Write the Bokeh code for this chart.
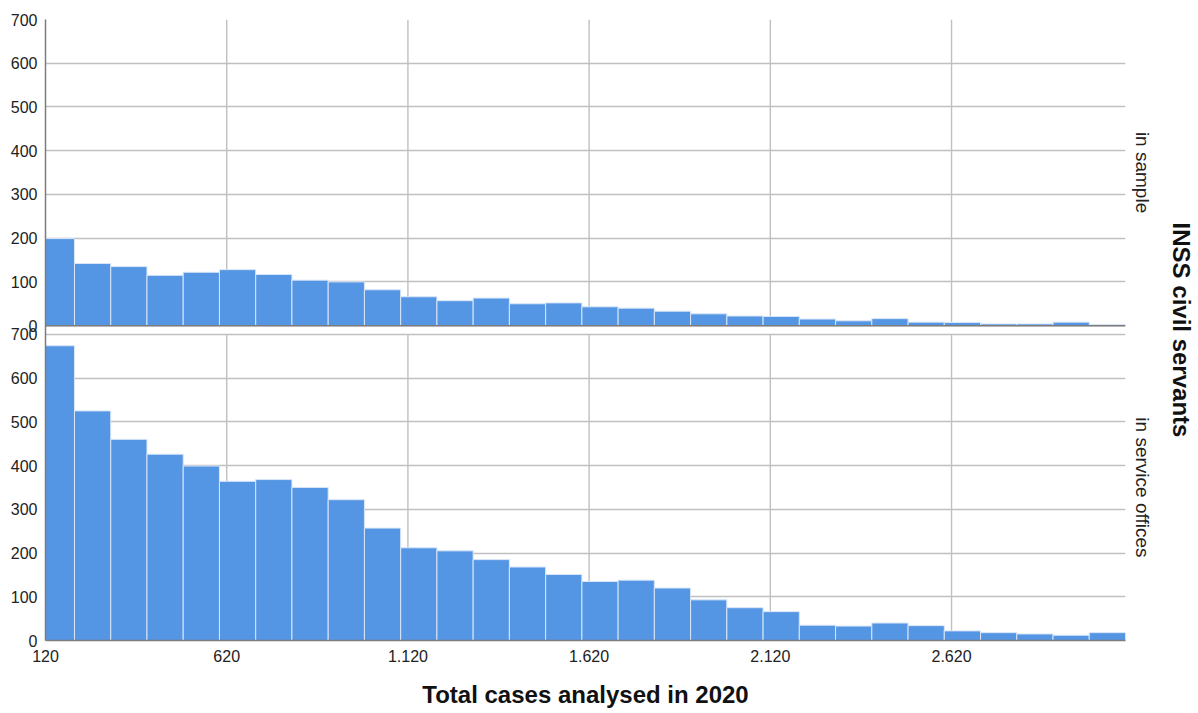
from bokeh.plotting import figure
from bokeh.models import ColumnDataSource, FixedTicker, Span, LinearAxis
from bokeh.embed import file_html
from bokeh.resources import INLINE

# ---- data ----
bin_start = [100, 200, 300, 400, 500, 600, 700, 800, 900, 1000,
             1100, 1200, 1300, 1400, 1500, 1600, 1700, 1800, 1900, 2000,
             2100, 2200, 2300, 2400, 2500, 2600, 2700, 2800, 2900, 3000]
bin_end = [200, 300, 400, 500, 600, 700, 800, 900, 1000, 1100,
           1200, 1300, 1400, 1500, 1600, 1700, 1800, 1900, 2000, 2100,
           2200, 2300, 2400, 2500, 2600, 2700, 2800, 2900, 3000, 3100]
in_sample = [199, 142, 135, 115, 122, 128, 117, 104, 100, 82,
             66, 57, 63, 50, 52, 43, 40, 33, 27, 22,
             21, 15, 11, 16, 8, 7, 4, 4, 8, 2]
in_service_offices = [674, 525, 460, 426, 399, 364, 368, 350, 322, 257,
                      212, 205, 185, 168, 151, 135, 138, 120, 93, 75,
                      66, 35, 33, 40, 34, 22, 18, 15, 12, 18]
panel_labels = ["in sample", "in service offices"]
row_title = "INSS civil servants"
x_title = "Total cases analysed in 2020"
x_ticks = [120, 620, 1120, 1620, 2120, 2620]
x_tick_labels = ["120", "620", "1.120", "1.620", "2.120", "2.620"]
y_ticks = [0, 100, 200, 300, 400, 500, 600, 700]
y_tick_labels = ["0", "100", "200", "300", "400", "500", "600", "700"]

# ---- layout constants ----
X_MIN, X_MAX = 120, 3100
PANEL_H = 700
GAP = 20
TOP_BASE = PANEL_H + GAP

BAR = "#5596E4"
BAR_EDGE = "#d9e6f8"
GRID = "#c0c0c0"
AXIS = "#7d7d7d"
TXT = "#222222"
FONT = "Liberation Sans"

p = figure(width=1198, height=713, title=None,
           x_range=(X_MIN, X_MAX), y_range=(0, TOP_BASE + PANEL_H),
           output_backend="svg", toolbar_location=None,
           min_border_left=45, min_border_right=73,
           min_border_top=19, min_border_bottom=73)
p.outline_line_color = None
p.background_fill_color = "white"
p.border_fill_color = "white"

# left axis: two stacked 0-700 scales
all_y_ticks = y_ticks + [TOP_BASE + t for t in y_ticks]
y_over = {}
for t, lab in zip(y_ticks, y_tick_labels):
    y_over[t] = lab
    y_over[TOP_BASE + t] = lab
p.yaxis.ticker = FixedTicker(ticks=all_y_ticks)
p.yaxis.major_label_overrides = y_over
p.xaxis.ticker = FixedTicker(ticks=x_ticks)
p.xaxis.major_label_overrides = dict(zip(x_ticks, x_tick_labels))

for ax in (p.xaxis, p.yaxis):
    ax.major_tick_in = 0
    ax.major_tick_out = 0
    ax.minor_tick_in = 0
    ax.minor_tick_out = 0
    ax.axis_line_color = AXIS
    ax.axis_line_width = 1.5
    ax.major_label_text_font = FONT
    ax.major_label_text_font_size = "16px"
    ax.major_label_text_color = TXT
p.yaxis.major_label_standoff = 8
p.xaxis.major_label_standoff = 9
p.xaxis.axis_label = x_title
p.xaxis.axis_label_text_font = FONT
p.xaxis.axis_label_text_font_size = "24px"
p.xaxis.axis_label_text_font_style = "bold"
p.xaxis.axis_label_text_color = "#111111"
p.xaxis.axis_label_standoff = 16

# right axis: panel names + row title
panel_centers = [TOP_BASE + PANEL_H // 2, PANEL_H // 2]
rax = LinearAxis(ticker=FixedTicker(ticks=panel_centers),
                 major_label_overrides=dict(zip(panel_centers, panel_labels)),
                 major_label_orientation="vertical",
                 axis_line_color=None,
                 major_tick_in=0, major_tick_out=0,
                 minor_tick_in=0, minor_tick_out=0,
                 major_label_standoff=6,
                 major_label_text_font=FONT,
                 major_label_text_font_size="19px",
                 major_label_text_color=TXT,
                 axis_label=row_title,
                 axis_label_standoff=12,
                 axis_label_text_font=FONT,
                 axis_label_text_font_size="24px",
                 axis_label_text_font_style="bold",
                 axis_label_text_color="#111111")
p.add_layout(rax, "right")

p.xgrid.visible = False
p.ygrid.grid_line_color = GRID
p.ygrid.grid_line_width = 1.4

# vertical grid lines limited to each panel
vx = x_ticks[1:]
grid_src = ColumnDataSource(dict(
    x=vx + vx,
    y0=[0] * len(vx) + [TOP_BASE] * len(vx),
    y1=[PANEL_H] * len(vx) + [TOP_BASE + PANEL_H] * len(vx),
))
p.segment(x0="x", x1="x", y0="y0", y1="y1", source=grid_src,
          line_color=GRID, line_width=1.4)

# bars
bottom_src = ColumnDataSource(dict(left=bin_start, right=bin_end,
                                   bottom=[0] * len(bin_start),
                                   top=in_service_offices))
top_src = ColumnDataSource(dict(left=bin_start, right=bin_end,
                                bottom=[TOP_BASE] * len(bin_start),
                                top=[TOP_BASE + v for v in in_sample]))
for src in (bottom_src, top_src):
    p.quad(left="left", right="right", bottom="bottom", top="top", source=src,
           fill_color=BAR, line_color=BAR_EDGE, line_width=1)

# top panel baseline
p.add_layout(Span(location=TOP_BASE, dimension="width",
                  line_color=AXIS, line_width=1.5))

open("out.html", "w").write(file_html(p, INLINE))
